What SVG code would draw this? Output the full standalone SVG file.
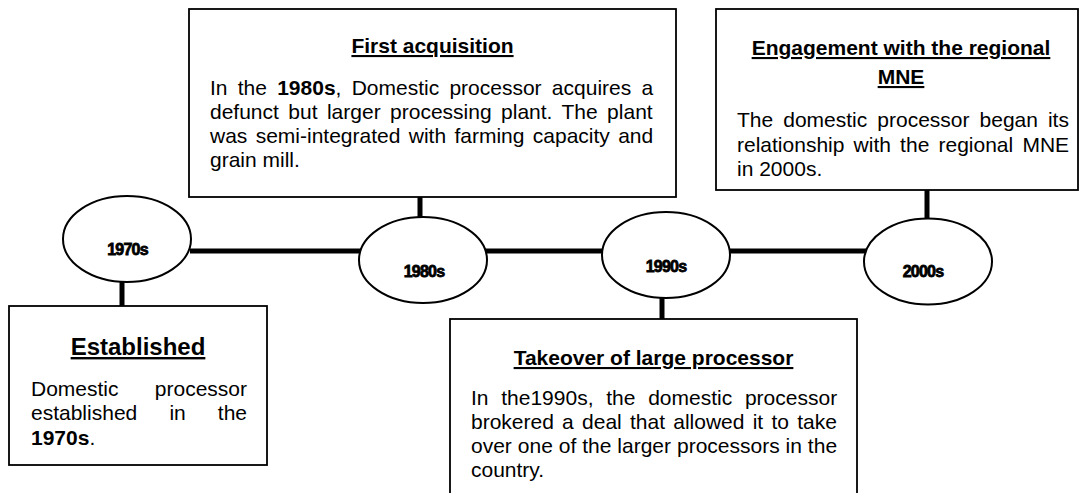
<svg xmlns="http://www.w3.org/2000/svg" width="1081" height="493" viewBox="0 0 1081 493">
  <style>
    .box { fill: #fff; stroke: #000; stroke-width: 1.8; }
    .era { fill: #fff; stroke: #000; stroke-width: 2; }
    .link { stroke: #000; stroke-width: 5; fill: none; }
    text { font-family: "Liberation Sans", Arial, sans-serif; fill: #000; }
    .body { font-size: 21px; }
    .title { font-size: 21px; font-weight: bold; text-decoration: underline; text-anchor: middle; }
    .year { font-size: 16px; font-weight: bold; text-anchor: middle; letter-spacing: -0.8px; stroke: #000; stroke-width: 0.8; }
    .b { font-weight: bold; }
  </style>

  <rect width="1081" height="493" fill="#fff"/>

  <!-- timeline spine and the stems to each event box -->
  <g id="connectors">
    <line class="link" x1="190" y1="251" x2="866" y2="251"/>
    <line class="link" x1="122" y1="281" x2="122" y2="307"/>
    <line class="link" x1="420" y1="196" x2="420" y2="218"/>
    <line class="link" x1="662" y1="297" x2="662" y2="320"/>
    <line class="link" x1="927" y1="189" x2="927" y2="219"/>
  </g>

  <!-- decade markers -->
  <g id="era-1970s">
    <ellipse class="era" cx="127" cy="239" rx="64" ry="43"/>
    <text class="year" x="127.5" y="255">1970s</text>
  </g>
  <g id="era-1980s">
    <ellipse class="era" cx="423" cy="260" rx="64" ry="43"/>
    <text class="year" x="424" y="276.5">1980s</text>
  </g>
  <g id="era-1990s">
    <ellipse class="era" cx="666" cy="255" rx="64" ry="43"/>
    <text class="year" x="666" y="271.5">1990s</text>
  </g>
  <g id="era-2000s">
    <ellipse class="era" cx="928" cy="261.5" rx="64" ry="43"/>
    <text class="year" x="923" y="276.5">2000s</text>
  </g>

  <!-- event boxes -->
  <g id="first-acquisition">
    <rect class="box" x="189" y="9" width="487" height="188"/>
    <text class="title" x="432.5" y="53">First acquisition</text>
    <text class="body" x="210" y="95" word-spacing="4.4">In the <tspan class="b">1980s</tspan>, Domestic processor acquires a</text>
    <text class="body" x="210" y="119" word-spacing="3.6">defunct but larger processing plant. The plant</text>
    <text class="body" x="210" y="143" word-spacing="2.5">was semi-integrated with farming capacity and</text>
    <text class="body" x="210" y="167">grain mill.</text>
  </g>

  <g id="established">
    <rect class="box" x="9" y="306" width="258" height="159"/>
    <text class="title" x="138" y="355" style="font-size:24px">Established</text>
    <text class="body" x="31" y="396">Domestic</text>
    <text class="body" x="247" y="396" text-anchor="end">processor</text>
    <text class="body" x="31" y="420">established</text>
    <text class="body" x="169.4" y="420">in</text>
    <text class="body" x="247" y="420" text-anchor="end">the</text>
    <text class="body" x="31" y="445"><tspan class="b">1970s</tspan>.</text>
  </g>

  <g id="takeover">
    <rect class="box" x="450" y="319" width="407" height="200"/>
    <text class="title" x="653.5" y="365">Takeover of large processor</text>
    <text class="body" x="471" y="405" word-spacing="6.9">In the1990s, the domestic processor</text>
    <text class="body" x="471" y="429" word-spacing="2.4">brokered a deal that allowed it to take</text>
    <text class="body" x="471" y="453" word-spacing="0.1">over one of the larger processors in the</text>
    <text class="body" x="471" y="477">country.</text>
  </g>

  <g id="regional-mne">
    <rect class="box" x="716" y="9" width="362" height="181"/>
    <text class="title" x="901" y="55">Engagement with the regional</text>
    <text class="title" x="901" y="84">MNE</text>
    <text class="body" x="737" y="127" word-spacing="4.2">The domestic processor began its</text>
    <text class="body" x="737" y="151.5" word-spacing="3.35">relationship with the regional MNE</text>
    <text class="body" x="737" y="176">in 2000s.</text>
  </g>
</svg>
